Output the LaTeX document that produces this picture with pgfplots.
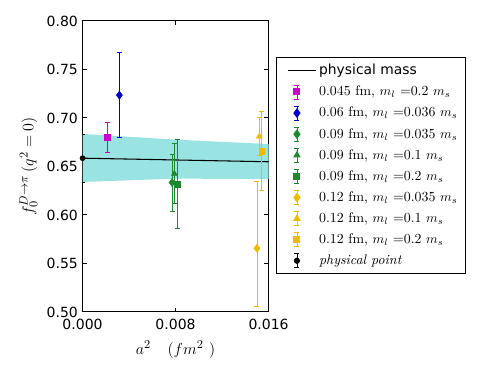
\documentclass[border=0pt]{standalone}
\usepackage{fontspec}
\newfontfamily\dejavu{DejaVu Sans}
\usepackage{pgfplots}
\pgfplotsset{compat=1.18}

\definecolor{cmag}{HTML}{CC00CC}
\definecolor{cblue}{HTML}{0000CC}
\definecolor{cgreen}{HTML}{1B8A2E}
\definecolor{cgold}{HTML}{EEBB00}
\definecolor{cband}{HTML}{99E3E3}

\pgfplotsset{
  errleg/.style={legend image code/.code={
    \path (0pt,-5pt) (25.5pt,5pt);
    \draw[##1,mark=none,line width=0.6pt] (11.25pt,-5.25pt) -- (11.25pt,5.25pt);
    \draw[##1,mark=none,line width=0.6pt] (9.4pt,-5.25pt) -- (13.1pt,-5.25pt);
    \draw[##1,mark=none,line width=0.6pt] (9.4pt,5.25pt) -- (13.1pt,5.25pt);
    \draw[##1,only marks] plot coordinates {(11.25pt,0pt)};
  }},
  lineleg/.style={legend image code/.code={
    \draw[##1,line width=0.8pt] (4.5pt,0pt) -- (25.5pt,0pt);
  }},
  pt/.style={only marks, errleg,
    error bars/y dir=both, error bars/y explicit,
    error bars/error bar style={line width=0.6pt},
    error bars/error mark options={rotate=90, mark size=1.9pt, line width=0.6pt}},
}

\begin{document}
\begin{tikzpicture}[x=0.75pt,y=0.75pt]
\path[use as bounding box] (0,0) rectangle (498,374);
\begin{axis}[
  at={(71,64)}, anchor=south west,
  width=139.5pt, height=218.25pt, scale only axis,
  xmin=0, xmax=0.016, ymin=0.5, ymax=0.8,
  xtick={0,0.008,0.016},
  ytick={0.5,0.55,0.6,0.65,0.7,0.75,0.8},
  scaled x ticks=false,
  x tick label style={yshift=-1.5pt, /pgf/number format/.cd, fixed, fixed zerofill, precision=3},
  y tick label style={/pgf/number format/.cd, fixed, fixed zerofill, precision=2},
  /pgf/number format/assume math mode=true,
  tick label style={font=\dejavu\fontsize{10.5}{12}\selectfont},
  tick align=inside, major tick length=3.2pt,
  tick style={line width=0.8pt, black},
  axis line style={line width=0.8pt},
  xlabel={$a^2\quad(fm^2\ )$},
  ylabel={$f_0^{D\to\pi}\,(q^2=0)$},
  xlabel style={yshift=-2pt},
  label style={font=\fontsize{12.5}{14}\selectfont},
  legend style={at={(1.0376,0.876)}, anchor=north west,
    draw=black, line width=0.8pt, row sep=3pt,
    inner xsep=4pt, inner ysep=3pt,
    font=\fontsize{10.4}{12}\selectfont,
    /tikz/every even column/.append style={column sep=0pt}},
  legend cell align=left,
]
\addplot[fill=cband, draw=none, forget plot]
  coordinates {(0,0.6835)(0.008,0.6776)(0.016,0.6731)(0.016,0.637)(0.008,0.6374)(0,0.634)} -- cycle;

\addplot[black, line width=0.8pt, mark=none, lineleg]
  coordinates {(0,0.6585)(0.016,0.6548)};
\addlegendentry{\dejavu physical mass}

\addplot[pt, color=cmag, mark=square*, mark size=2.2pt]
  coordinates {(0.00216,0.680) +- (0,0.0155)};
\addlegendentry{0.045 fm, $m_l$ =0.2 $m_s$}

\addplot[pt, color=cblue, mark=diamond*, mark size=3pt]
  coordinates {(0.00317,0.7235) +- (0,0.044)};
\addlegendentry{0.06 fm, $m_l$ =0.036 $m_s$}

\addplot[pt, color=cgreen, mark=diamond*, mark size=3pt]
  coordinates {(0.0077,0.6334) +- (0,0.0295)};
\addlegendentry{0.09 fm, $m_l$ =0.035 $m_s$}

\addplot[pt, color=cgreen, mark=triangle*, mark size=2.5pt]
  coordinates {(0.0079,0.6425) +- (0,0.031)};
\addlegendentry{0.09 fm, $m_l$ =0.1 $m_s$}

\addplot[pt, color=cgreen, mark=square*, mark size=2.2pt]
  coordinates {(0.00813,0.632) +- (0,0.046)};
\addlegendentry{0.09 fm, $m_l$ =0.2 $m_s$}

\addplot[pt, color=cgold, mark=diamond*, mark size=3pt]
  coordinates {(0.0150,0.5656) += (0,0.0694) -= (0,0.0602)};
\addlegendentry{0.12 fm, $m_l$ =0.035 $m_s$}

\addplot[pt, color=cgold, mark=triangle*, mark size=2.5pt]
  coordinates {(0.0152,0.681) +- (0,0.020)};
\addlegendentry{0.12 fm, $m_l$ =0.1 $m_s$}

\addplot[pt, color=cgold, mark=square*, mark size=2.2pt]
  coordinates {(0.01542,0.666) +- (0,0.0405)};
\addlegendentry{0.12 fm, $m_l$ =0.2 $m_s$}

\addplot[pt, color=black, mark=*, mark size=1.9pt]
  coordinates {(0,0.6585) +- (0,0.0245)};
\addlegendentry{\textit{physical point}}
\end{axis}
\end{tikzpicture}
\end{document}
